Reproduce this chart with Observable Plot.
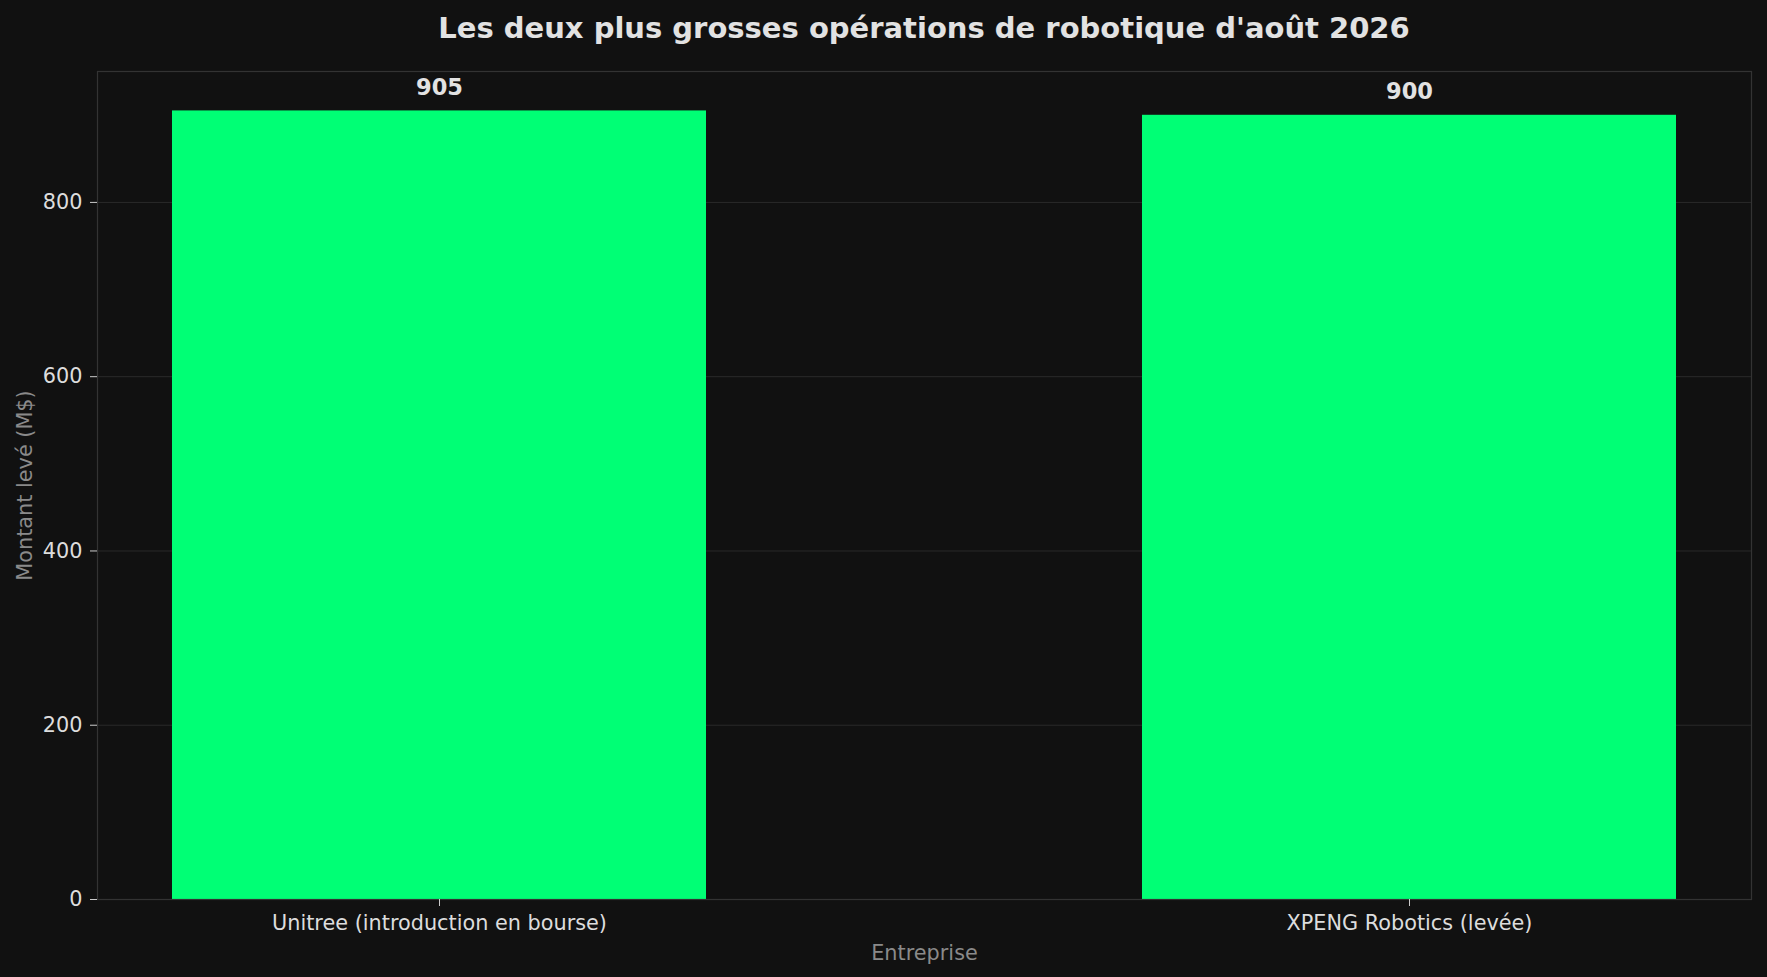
<!DOCTYPE html>
<html>
<head>
<meta charset="utf-8">
<script src="https://cdn.jsdelivr.net/npm/d3@7"></script>
<script src="https://cdn.jsdelivr.net/npm/@observablehq/plot@0.6"></script>
<style>
  html, body { margin: 0; padding: 0; background: #111111; }
  #title {
    width: 1767px; height: 60px; box-sizing: border-box;
    padding: 11px 16px 0 97px; text-align: center;
    font-family: "DejaVu Sans", sans-serif; font-weight: bold; font-size: 29px;
    color: #e2e2e2; line-height: normal; white-space: nowrap;
  }
</style>
</head>
<body>
<div id="title">Les deux plus grosses opérations de robotique d'août 2026</div>
<div id="chart"></div>
<script>
const companies = ["Unitree (introduction en bourse)", "XPENG Robotics (levée)"];
const amounts = [905, 900];
const yTicks = [0, 200, 400, 600, 800];
const xLabel = "Entreprise";
const yLabel = "Montant levé (M$)";

const data = companies.map((c, i) => ({company: c, amount: amounts[i]}));

const chart = Plot.plot({
  width: 1767,
  height: 917,
  marginLeft: 97,
  marginRight: 16,
  marginTop: 11,
  marginBottom: 78,
  style: {background: "#111111", color: "#dddddd", fontFamily: "DejaVu Sans, sans-serif", fontSize: "20.8px"},
  x: {type: "band", domain: companies, paddingInner: 0.45, paddingOuter: 0.0775, label: null},
  y: {domain: [0, 950.25], label: null},
  marks: [
    Plot.gridY(yTicks, {stroke: "#2a2a2a", strokeOpacity: 1, strokeWidth: 1}),
    Plot.barY(data, {x: "company", y: "amount", fill: "#00ff75"}),
    Plot.frame({stroke: "#333333", strokeWidth: 1.2}),
    Plot.axisY(yTicks, {tickSize: 7, tickPadding: 8, fontSize: 20.8, label: null, stroke: "#cccccc", fill: "#dddddd"}),
    Plot.axisX({tickSize: 7, tickPadding: 9, fontSize: 20.8, label: null, stroke: "#cccccc", fill: "#dddddd"}),
    Plot.text(data, {x: "company", y: "amount", text: d => String(d.amount), lineAnchor: "bottom", dy: -16,
      fontWeight: "bold", fontSize: 22.5, fill: "#e2e2e2"}),
    Plot.text([xLabel], {frameAnchor: "bottom", lineAnchor: "bottom", dy: 60, fill: "#8a8a8a", fontSize: 20.8}),
    Plot.text([yLabel], {frameAnchor: "left", textAnchor: "middle", rotate: -90, dx: -72, fill: "#8a8a8a", fontSize: 20.8})
  ]
});
document.getElementById("chart").appendChild(chart);
</script>
</body>
</html>
